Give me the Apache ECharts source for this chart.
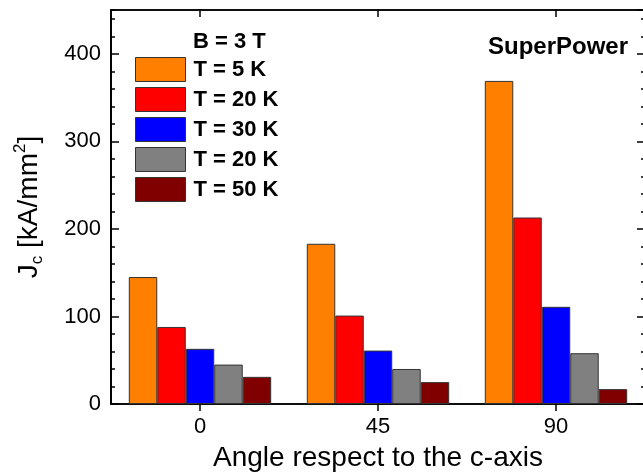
<!DOCTYPE html>
<html>
<head>
<meta charset="utf-8">
<title>Jc vs angle</title>
<script src="https://cdn.jsdelivr.net/npm/echarts@6/dist/echarts.min.js"></script>
<style>
  html, body { margin: 0; padding: 0; background: #fff; }
  #chart { width: 643px; height: 472px; }
</style>
</head>
<body>
<div id="chart"></div>
<script>
// Critical current density at B = 3 T for three field angles
const angles = ['0', '45', '90'];
const seriesLabels = ['T = 5 K', 'T = 20 K', 'T = 30 K', 'T = 20 K', 'T = 50 K'];
const seriesKeys = ['t5', 't20', 't30', 't20b', 't50'];
const seriesColors = ['#FF8000', '#FF0000', '#0000FF', '#808080', '#800000'];
const jc_t5 = [145, 183, 369];
const jc_t20 = [88, 101, 213];
const jc_t30 = [63, 61, 111];
const jc_t20b = [45, 40, 58];
const jc_t50 = [31, 25, 17];
const seriesValues = [jc_t5, jc_t20, jc_t30, jc_t20b, jc_t50];
const yMin = 0, yMax = 450, yMajor = 100, yMinor = 20;

const FONT = '"Liberation Sans", Arial, sans-serif';
const AXIS_COLOR = '#000';
const AXIS_WIDTH = 1.5;

const chart = echarts.init(document.getElementById('chart'), null, { renderer: 'canvas' });

// Value axis helper: major axes carry long ticks, minor axes short ticks
function yAxisDef(position, interval, tickLen, showLabels, extra) {
  return Object.assign({
    type: 'value',
    gridIndex: 0,
    position: position,
    min: yMin,
    max: yMax,
    interval: interval,
    axisLine: { show: true, onZero: false, lineStyle: { color: AXIS_COLOR, width: AXIS_WIDTH } },
    axisTick: { show: true, inside: true, length: tickLen, lineStyle: { color: AXIS_COLOR, width: AXIS_WIDTH } },
    axisLabel: {
      show: showLabels,
      fontSize: 22,
      fontFamily: FONT,
      color: '#000',
      margin: 10,
      showMaxLabel: false
    },
    splitLine: { show: false }
  }, extra || {});
}

const labelByKey = {};
seriesKeys.forEach((k, i) => { labelByKey[k] = seriesLabels[i]; });

const option = {
  animation: false,
  backgroundColor: '#fff',
  grid: {
    left: 111, top: 10, width: 534, height: 394,
    containLabel: false, outerBoundsMode: 'none',
    show: true, backgroundColor: 'transparent', borderColor: AXIS_COLOR, borderWidth: AXIS_WIDTH
  },
  legend: {
    orient: 'vertical',
    left: 135,
    top: 57,
    padding: 0,
    itemWidth: 50,
    itemHeight: 24,
    itemGap: 5,
    icon: 'rect',
    selectedMode: false,
    data: seriesKeys,
    formatter: k => labelByKey[k],
    itemStyle: { borderColor: '#333', borderWidth: 1 },
    textStyle: {
      fontSize: 22,
      fontWeight: 'bold',
      fontFamily: FONT,
      color: '#000',
      padding: [0, 0, 0, 3]
    }
  },
  xAxis: [
    {
      type: 'category',
      gridIndex: 0,
      position: 'bottom',
      data: angles,
      name: 'Angle respect to the c-axis',
      nameLocation: 'middle',
      nameGap: 40,
      nameTextStyle: { fontSize: 28, fontFamily: FONT, color: '#000' },
      axisLine: { show: true, onZero: false, lineStyle: { color: AXIS_COLOR, width: AXIS_WIDTH } },
      axisTick: { show: true, alignWithLabel: true, inside: false, length: 7, lineStyle: { color: AXIS_COLOR, width: AXIS_WIDTH } },
      axisLabel: { fontSize: 22, fontFamily: FONT, color: '#000', margin: 12 },
      splitLine: { show: false }
    },
    {
      type: 'category',
      gridIndex: 0,
      position: 'top',
      data: angles,
      axisLine: { show: true, onZero: false, lineStyle: { color: AXIS_COLOR, width: AXIS_WIDTH } },
      axisTick: { show: true, alignWithLabel: true, inside: true, length: 7, lineStyle: { color: AXIS_COLOR, width: AXIS_WIDTH } },
      axisLabel: { show: false },
      splitLine: { show: false }
    }
  ],
  yAxis: [
    yAxisDef('left', yMajor, 8, true, {
      name: '{t|J}{sub|c}{t| [kA/mm}{sup|2}{t|]}',
      nameLocation: 'middle',
      nameGap: 65,
      nameRotate: 90,
      nameTextStyle: {
        rich: {
          t: { fontSize: 28, fontFamily: FONT, color: '#000', lineHeight: 34 },
          sub: { fontSize: 17, fontFamily: FONT, color: '#000', lineHeight: 15, verticalAlign: 'bottom' },
          sup: { fontSize: 17, fontFamily: FONT, color: '#000', lineHeight: 15, verticalAlign: 'top' }
        }
      }
    }),
    yAxisDef('left', yMinor, 4, false),
    yAxisDef('right', yMajor, 8, false),
    yAxisDef('right', yMinor, 4, false)
  ],
  graphic: [
    {
      type: 'text',
      left: 193,
      top: 31,
      style: { text: 'B = 3 T', font: 'bold 22px ' + FONT, fill: '#000' }
    },
    {
      type: 'text',
      right: 15,
      top: 35,
      style: { text: 'SuperPower', font: 'bold 24px ' + FONT, fill: '#000' }
    }
  ],
  series: seriesKeys.map((k, i) => ({
    name: k,
    type: 'bar',
    xAxisIndex: 0,
    yAxisIndex: 0,
    data: seriesValues[i],
    barGap: '0%',
    barCategoryGap: '20%',
    itemStyle: { color: seriesColors[i], borderColor: '#333', borderWidth: 1 }
  }))
};

chart.setOption(option);
</script>
</body>
</html>
